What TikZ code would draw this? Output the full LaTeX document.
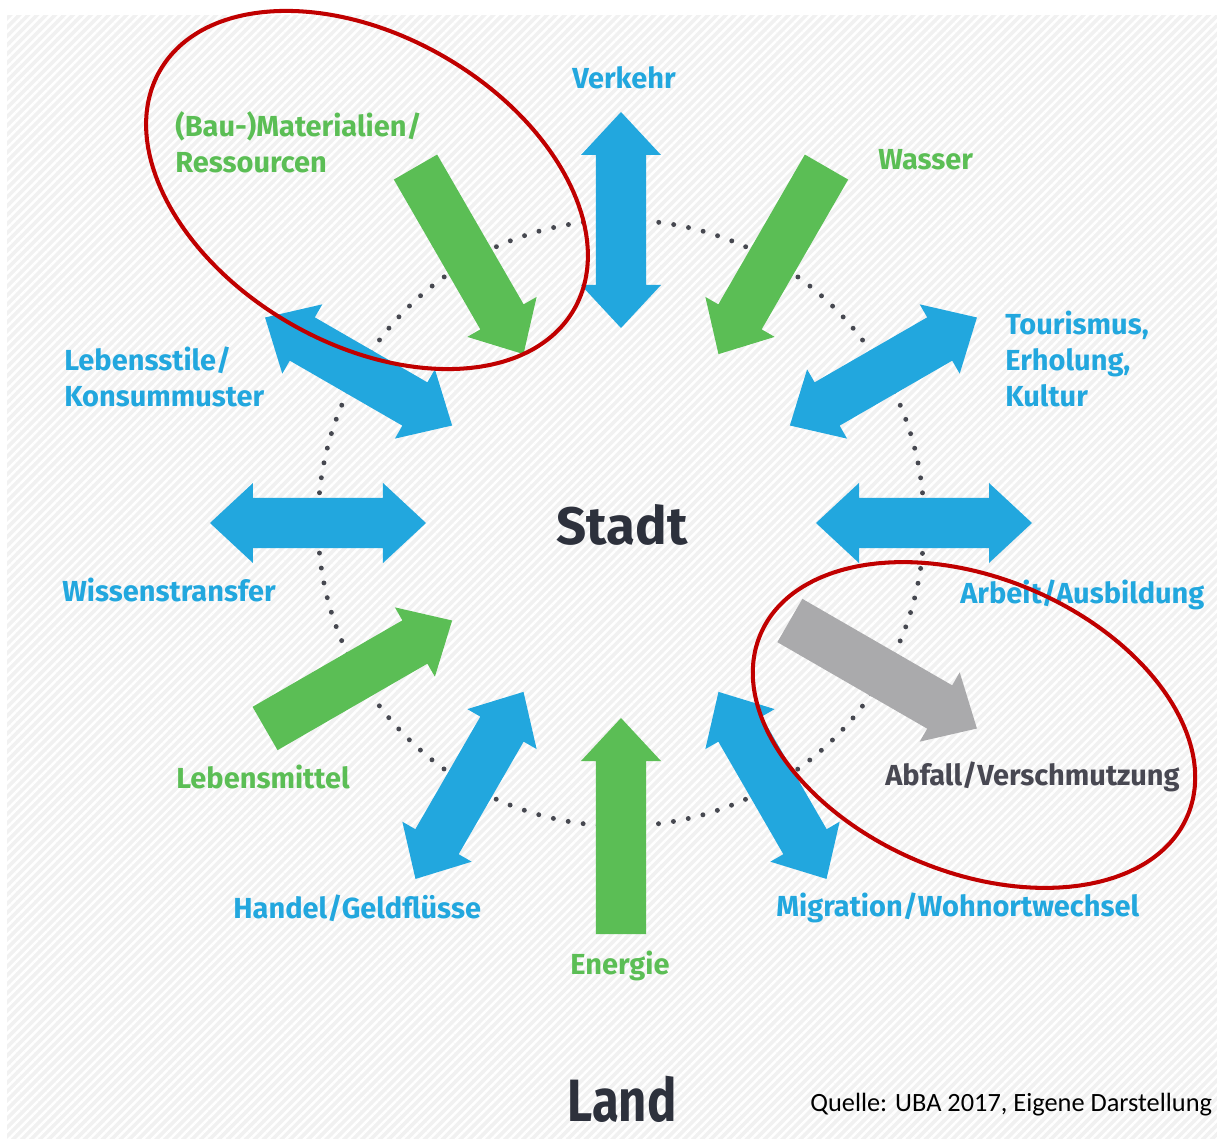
\documentclass[tikz,border=0pt]{standalone}
\usepackage{fontspec}
\usepackage{tikz}
\usetikzlibrary{patterns.meta}
\newfontfamily\labelfont{Fira Sans}
\newfontfamily\srcfont{Carlito}
\definecolor{flowblue}{RGB}{34,167,222}
\definecolor{flowgreen}{RGB}{91,190,85}
\definecolor{flowgrey}{RGB}{170,170,172}
\definecolor{inkdark}{RGB}{45,49,60}
\definecolor{wastegrey}{RGB}{72,72,82}
\definecolor{ringred}{RGB}{192,0,0}
\definecolor{dotgrey}{RGB}{70,72,80}
\definecolor{hatchgrey}{RGB}{241,241,241}
\tikzset{
  pics/twoway/.style={code={\path[pic actions] (-108,0) -- (-65,40) -- (-65,25) -- (65,25) -- (65,40) -- (108,0)
      -- (65,-40) -- (65,-25) -- (-65,-25) -- (-65,-40) -- cycle;}},
  pics/inward/.style={code={\path[pic actions] (-108,0) -- (-65,40) -- (-65,25) -- (108,25) -- (108,-25)
      -- (-65,-25) -- (-65,-40) -- cycle;}},
  pics/outward/.style={code={\path[pic actions] (108,0) -- (65,40) -- (65,25) -- (-108,25) -- (-108,-25)
      -- (65,-25) -- (65,-40) -- cycle;}},
}

\begin{document}
\begin{tikzpicture}[
    x=0.02cm, y=0.02cm,
    lab/.style={font=\labelfont\bfseries\fontsize{16.5}{20.5}\selectfont, anchor=west,
                align=left, inner sep=0pt},
    bluelab/.style={lab, text=flowblue},
    greenlab/.style={lab, text=flowgreen},
    title/.style={font=\labelfont\bfseries, text=inkdark, inner sep=0pt},
    ring/.style={draw=ringred, line width=2.3pt},
    dots/.style={draw=dotgrey, line width=2.8pt, line cap=round, dash pattern=on 0pt off 8.6pt}
]
\useasboundingbox (-621,-616) rectangle (596,523);

% Background
\fill[hatchgrey] (-614,-616) rectangle (596,508);
\fill[pattern={Lines[angle=45, distance=3.6pt, line width=1.4pt]}, pattern color=white]
  (-614,-616) rectangle (596,508);

% Ring of the city
\draw[dots] (0,0) circle [radius=303];

% Flows
\pic[fill=flowblue, rotate=90] at (90:303) {twoway};
\pic[fill=flowgreen, rotate=60] at (60:303) {inward};
\pic[fill=flowblue, rotate=30] at (30:303) {twoway};
\pic[fill=flowblue, rotate=0] at (0:303) {twoway};
\pic[fill=flowgrey, rotate=-30] at (-30:303) {outward};
\pic[fill=flowblue, rotate=-60] at (-60:303) {twoway};
\pic[fill=flowgreen, rotate=-90] at (-90:303) {inward};
\pic[fill=flowblue, rotate=-120] at (-120:303) {twoway};
\pic[fill=flowgreen, rotate=-150] at (-150:303) {inward};
\pic[fill=flowblue, rotate=180] at (180:303) {twoway};
\pic[fill=flowblue, rotate=150] at (150:303) {twoway};
\pic[fill=flowgreen, rotate=120] at (120:303) {inward};

% Labels
\node[bluelab, anchor=center] (verkehr) at (3,445) {Verkehr};
\node[greenlab] (material) at (-446,381) {(Bau-)Materialien/\\Ressourcen};
\node[greenlab] (wasser) at (257,363) {Wasser};
\node[bluelab] (tourismus) at (384,164) {Tourismus,\\Erholung,\\Kultur};
\node[bluelab] (lebensstile) at (-557,146) {Lebensstile/\\Konsummuster};
\node[bluelab] (wissen) at (-559,-67) {Wissenstransfer};
\node[bluelab] (arbeit) at (339,-72) {Arbeit/Ausbildung};
\node[greenlab] (lebensmittel) at (-445,-254) {Lebensmittel};
\node[lab, text=wastegrey] (abfall) at (264,-254) {Abfall/Verschmutzung};
\node[bluelab] (handel) at (-388,-385) {Handel/Geldflüsse};
\node[bluelab] (migration) at (155,-385) {Migration/Wohnortwechsel};
\node[greenlab, anchor=center] (energie) at (-1,-443) {Energie};

\node[title, font=\labelfont\bfseries\fontsize{30}{36}\selectfont] (stadt) at (1,-2) {Stadt};
\node[title, font=\labelfont\bfseries\fontsize{34}{40}\selectfont] (land) at (1,-576)
  {\scalebox{0.82}[1]{Land}};
\node[font=\srcfont\fontsize{15}{17}\selectfont, anchor=west, inner sep=0pt] (quelle) at (189,-582)
  {Quelle: UBA 2017, Eigene Darstellung};

% Highlights
\draw[ring, shift={(-254,333)}, rotate=-30] (0,0) ellipse [x radius=239, y radius=154];
\draw[ring, shift={(353,-202)}, rotate=-23] (0,0) ellipse [x radius=232, y radius=147];
\end{tikzpicture}
\end{document}
